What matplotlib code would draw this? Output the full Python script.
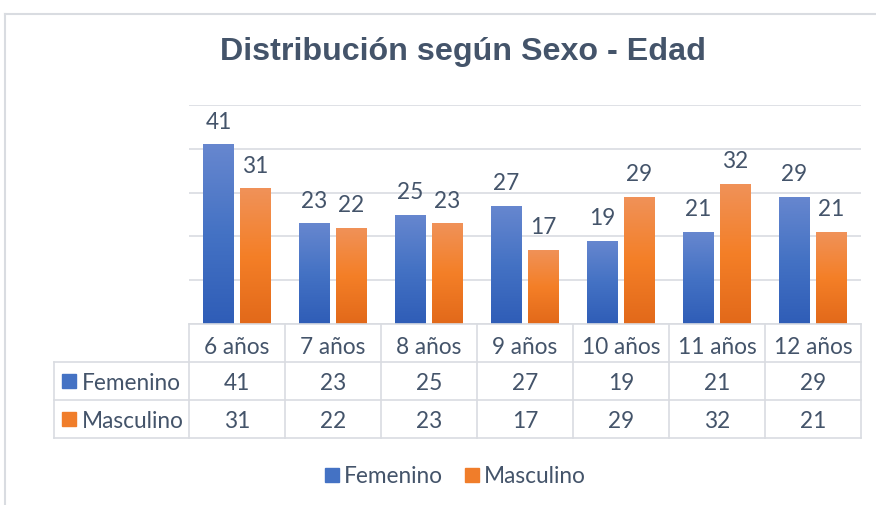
import numpy as np
import matplotlib
matplotlib.use("Agg")
import matplotlib.pyplot as plt
from matplotlib.colors import LinearSegmentedColormap
from matplotlib.lines import Line2D
from matplotlib.transforms import blended_transform_factory

# datos
edades = ["6 años", "7 años", "8 años", "9 años", "10 años", "11 años", "12 años"]
femenino = [41, 23, 25, 27, 19, 21, 29]
masculino = [31, 22, 23, 17, 29, 32, 21]
series = ["Femenino", "Masculino"]

TXT = "#44546A"
GRID = "#D9DCE1"
FONT = "Lato"
FS = 16.3

# gradientes tipo Excel (arriba claro -> abajo oscuro)
cmap_f = LinearSegmentedColormap.from_list("fem", ["#2F5DB7", "#4472C4", "#6787CF"])
cmap_m = LinearSegmentedColormap.from_list("mas", ["#E2691A", "#F47F27", "#F09259"])
solid = ["#4472C4", "#F07D2A"]

W, H = 876, 506
fig = plt.figure(figsize=(W / 100, H / 100), dpi=100)


def fx(px):
    return px / W


def fy(py):
    return 1 - py / H


ax = fig.add_axes([fx(189), fy(325), fx(861) - fx(189), fy(106) - fy(325)])
x = np.arange(len(edades))
bw = 0.32
off = 0.193

grad = np.linspace(0, 1, 256).reshape(-1, 1)
for vals, sign, cm in [(femenino, -1, cmap_f), (masculino, 1, cmap_m)]:
    bars = ax.bar(x + sign * off, vals, width=bw, color="none", edgecolor="none", zorder=3)
    for b, v in zip(bars, vals):
        x0 = b.get_x()
        im = ax.imshow(grad, cmap=cm, origin="lower", aspect="auto",
                       extent=[x0, x0 + b.get_width(), 0, v], zorder=3)
        im.set_clip_path(b)
        ax.annotate(str(v), (b.get_x() + b.get_width() / 2, v), xytext=(0, 12),
                    textcoords="offset points", ha="center", va="baseline",
                    fontsize=FS, color=TXT, family=FONT)

ax.set_xlim(-0.5, len(edades) - 0.5)
ax.set_ylim(0, 50)
ax.set_yticks([0, 10, 20, 30, 40, 50])
ax.yaxis.grid(True, color=GRID, lw=1.2, zorder=0)
ax.set_axisbelow(True)
ax.tick_params(left=False, bottom=False, labelleft=False, labelbottom=False)
for s in ax.spines.values():
    s.set_visible(False)

# tabla de datos
trans = blended_transform_factory(ax.transData, fig.transFigure)
for b in np.arange(-0.5, len(edades), 1):
    fig.add_artist(Line2D([b, b], [fy(325), fy(439)], transform=trans, color=GRID, lw=1.2))
fig.add_artist(Line2D([fx(54), fx(54)], [fy(363), fy(439)], color=GRID, lw=1.2))
for yy in [363, 401, 439]:
    fig.add_artist(Line2D([fx(54), fx(861)], [fy(yy), fy(yy)], color=GRID, lw=1.2))
fig.add_artist(Line2D([fx(189), fx(861)], [fy(325), fy(325)], color=GRID, lw=1.2))

for i, lab in enumerate(edades):
    ax.text(i, fy(347), lab, transform=trans, ha="center", va="center",
            fontsize=FS, color=TXT, family=FONT)
for row, (name, vals) in enumerate(zip(series, [femenino, masculino])):
    yc = fy(384 + row * 38)
    fig.add_artist(Line2D([fx(69)], [fy(382 + row * 38)], marker="s", markersize=10,
                          color=solid[row], lw=0))
    fig.text(fx(82), yc, name, ha="left", va="center", fontsize=FS, color=TXT, family=FONT)
    for i, v in enumerate(vals):
        ax.text(i, yc, str(v), transform=trans, ha="center", va="center",
                fontsize=FS, color=TXT, family=FONT)

# leyenda
for k, (name, lx) in enumerate(zip(series, [332, 472])):
    fig.add_artist(Line2D([fx(lx)], [fy(476)], marker="s", markersize=10, color=solid[k], lw=0))
    fig.text(fx(lx + 12), fy(477), name, ha="left", va="center", fontsize=FS, color=TXT, family=FONT)

# titulo
fig.text(fx(463), fy(52), "Distribución según Sexo - Edad", ha="center", va="center",
         fontsize=23.2, fontweight="bold", color=TXT, family="Liberation Sans")

# marco
fig.add_artist(Line2D([fx(5), 1], [fy(15), fy(15)], color=GRID, lw=1.5))
fig.add_artist(Line2D([fx(5), fx(5)], [fy(15), 0], color=GRID, lw=1.5))

fig.savefig("out.png", dpi=100)
